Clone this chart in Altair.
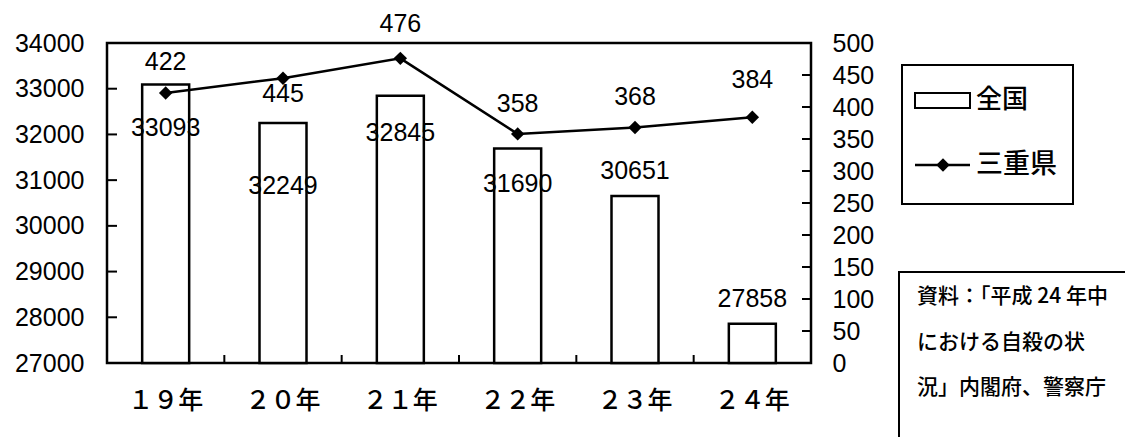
import altair as alt
import pandas as pd

years = ["１９年", "２０年", "２１年", "２２年", "２３年", "２４年"]
national = [33093, 32249, 32845, 31690, 30651, 27858]
mie = [422, 445, 476, 358, 368, 384]
national_label_offset = [44, 63, 37, 35, -25, -25]
mie_label_offset = [-31, 16, -34, -30, -30, -37]
left_ticks = list(range(27000, 34001, 1000))
right_ticks = list(range(0, 501, 50))
legend_labels = ["全国", "三重県"]
source_lines = ["資料：「平成 24 年中", "における自殺の状", "況」内閣府、警察庁"]

W, H = 704, 320
NUM_FONT = "Liberation Sans"
JP_FONT = "Noto Sans CJK JP"
JP_WEIGHT = 500

df = pd.DataFrame({"year": years, "national": national, "mie": mie})
lt = pd.DataFrame({"national": left_ticks})
rt = pd.DataFrame({"mie": right_ticks})
bt = pd.DataFrame({"year": years[1:]})

xaxis = alt.Axis(title=None, labelAngle=0, ticks=False, domain=False, grid=False,
                 labelFont=JP_FONT, labelFontSize=25, labelFontWeight=JP_WEIGHT,
                 labelPadding=25, labelColor="black")
xenc = alt.X("year:N", sort=years, scale=alt.Scale(paddingInner=0, paddingOuter=0), axis=xaxis)
lscale = alt.Scale(domain=[27000, 34000], nice=False, zero=False)
rscale = alt.Scale(domain=[0, 500], nice=False, zero=True)
laxis = alt.Axis(title=None, orient="left", values=left_ticks, format="d", ticks=False, tickSize=0,
                 domain=False, grid=False, labelFont=NUM_FONT, labelFontSize=25,
                 labelPadding=23, labelColor="black")
raxis = alt.Axis(title=None, orient="right", values=right_ticks, format="d", ticks=False, tickSize=0,
                 domain=False, grid=False, labelFont=NUM_FONT, labelFontSize=25,
                 labelPadding=21, labelColor="black")
ly = alt.Y("national:Q", scale=lscale, axis=laxis)
ry = alt.Y("mie:Q", scale=rscale, axis=raxis)

bars = alt.Chart(df).mark_bar(size=47, fill="white", stroke="black", strokeWidth=2.5).encode(
    x=xenc, y=ly, y2=alt.datum(27000),
)
bar_labels = [
    alt.Chart(df).transform_filter(alt.datum.year == yr).mark_text(
        font=NUM_FONT, fontSize=25, color="black", baseline="middle", dy=off).encode(
        x=xenc, y=ly, text=alt.Text("national:Q", format="d"))
    for yr, off in zip(years, national_label_offset)
]
left_tick_marks = alt.Chart(lt).mark_rule(color="black", strokeWidth=2).encode(
    y=ly, x=alt.value(0), x2=alt.value(10),
)
band_ticks = alt.Chart(bt).mark_rule(color="black", strokeWidth=2).encode(
    x=alt.X("year:N", sort=years, bandPosition=0, axis=xaxis),
    y=alt.value(H), y2=alt.value(H - 8),
)
left_group = alt.layer(bars, *bar_labels, left_tick_marks, band_ticks)

line = alt.Chart(df).mark_line(color="black", strokeWidth=2.5).encode(x=xenc, y=ry)
points = alt.Chart(df).mark_point(shape="diamond", filled=True, color="black", size=180, opacity=1).encode(
    x=xenc, y=ry)
line_labels = [
    alt.Chart(df).transform_filter(alt.datum.year == yr).mark_text(
        font=NUM_FONT, fontSize=25, color="black", baseline="middle", dy=off).encode(
        x=xenc, y=ry, text=alt.Text("mie:Q", format="d"))
    for yr, off in zip(years, mie_label_offset)
]
right_tick_marks = alt.Chart(rt).mark_rule(color="black", strokeWidth=2).encode(
    y=ry, x=alt.value(W - 9), x2=alt.value(W),
)
right_group = alt.layer(line, points, *line_labels, right_tick_marks)

one = alt.Data(values=[{"a": 1}])
legend_box = alt.Chart(one).mark_rect(fill="white", stroke="black", strokeWidth=2).encode(
    x=alt.value(795), x2=alt.value(966), y=alt.value(22), y2=alt.value(161))
legend_rect = alt.Chart(one).mark_rect(fill="white", stroke="black", strokeWidth=2).encode(
    x=alt.value(808), x2=alt.value(863), y=alt.value(50), y2=alt.value(65))
legend_line = alt.Chart(one).mark_rule(color="black", strokeWidth=2.5).encode(
    x=alt.value(808), x2=alt.value(863), y=alt.value(122))
legend_diamond = alt.Chart(one).mark_point(shape="diamond", filled=True, color="black", size=180, opacity=1).encode(
    x=alt.value(836), y=alt.value(122))
legend_t1 = alt.Chart(one).mark_text(font=JP_FONT, fontSize=26, fontWeight=JP_WEIGHT, align="left",
                                     baseline="middle", color="black").encode(
    x=alt.value(869), y=alt.value(57), text=alt.value(legend_labels[0]))
legend_t2 = alt.Chart(one).mark_text(font=JP_FONT, fontSize=27, fontWeight=JP_WEIGHT, align="left",
                                     baseline="middle", color="black").encode(
    x=alt.value(869), y=alt.value(122), text=alt.value(legend_labels[1]))
src_box = alt.Chart(one).mark_rect(fill="white", stroke="black", strokeWidth=2).encode(
    x=alt.value(792), x2=alt.value(1040), y=alt.value(229), y2=alt.value(420))
src_t = [
    alt.Chart(one).mark_text(font=JP_FONT, fontSize=21, fontWeight=JP_WEIGHT, align="left",
                             baseline="middle", color="black").encode(
        x=alt.value(810), y=alt.value(yy), text=alt.value(t))
    for t, yy in zip(source_lines, [254, 300, 345])
]
decor = alt.layer(legend_box, legend_rect, legend_line, legend_diamond, legend_t1, legend_t2, src_box, *src_t)

chart = alt.layer(left_group, right_group, decor).resolve_scale(y="independent").properties(
    width=W, height=H,
    autosize=alt.AutoSizeParams(type="none"),
    padding={"left": 107, "top": 43, "right": 314, "bottom": 74},
    background="white",
).configure_view(stroke="black", strokeWidth=2.5)

chart.save("out.html", embed_options={"renderer": "svg", "actions": False})
